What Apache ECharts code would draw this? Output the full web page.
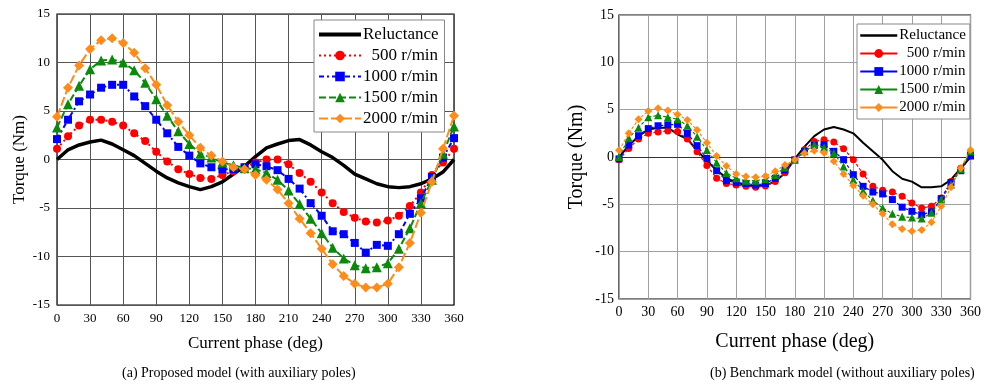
<!DOCTYPE html>
<html>
<head>
<meta charset="utf-8">
<script src="https://cdn.jsdelivr.net/npm/echarts@6/dist/echarts.min.js"></script>
<style>
html,body{margin:0;padding:0;background:#fff;}
#wrap{position:relative;width:984px;height:389px;}
#ca{position:absolute;left:0;top:0;width:492px;height:389px;}
#cb{position:absolute;left:492px;top:0;width:492px;height:389px;}
</style>
</head>
<body>
<div id="wrap"><div id="ca"></div><div id="cb"></div></div>
<script>
// ---- data ----
const phase = [0,10,20,30,40,50,60,70,80,90,100,110,120,130,140,150,160,170,180,190,200,210,220,230,240,250,260,270,280,290,300,310,320,330,340,350,360];
const seriesNames = ['Reluctance', '  500 r/min', '1000 r/min', '1500 r/min', '2000 r/min'];
const xTicks = [0,30,60,90,120,150,180,210,240,270,300,330,360];
const yTicks = [-15,-10,-5,0,5,10,15];

// (a) Proposed model
const relA   = [0,1.0,1.5,1.8,2.0,1.6,1.0,0.4,-0.4,-1.2,-1.9,-2.4,-2.8,-3.1,-2.8,-2.3,-1.5,-0.7,0.3,1.2,1.6,1.95,2.05,1.5,0.8,0.2,-0.6,-1.5,-2.0,-2.5,-2.8,-2.9,-2.8,-2.5,-2.0,-1.3,0];
const r500A  = [1.1,2.4,3.5,4.1,4.1,3.9,3.5,2.7,1.9,0.8,-0.2,-1.0,-1.5,-1.9,-2.0,-1.6,-1.2,-0.8,-0.3,0,0,-0.5,-1.4,-2.3,-3.4,-4.5,-5.4,-6.0,-6.4,-6.5,-6.3,-5.8,-4.8,-3.4,-1.6,-0.3,1.1];
const r1000A = [2.1,4.1,6.0,6.7,7.4,7.7,7.7,6.5,5.5,4.1,2.7,1.3,0.4,-0.4,-0.8,-1.0,-1.0,-0.8,-0.5,-0.7,-1.1,-2.0,-3.0,-4.5,-5.8,-7.4,-7.7,-8.6,-9.6,-8.8,-8.9,-7.7,-5.6,-4.0,-1.8,0.2,2.2];
const r1500A = [3.3,5.7,7.6,9.3,10.2,10.3,10.0,9.2,7.9,6.2,4.5,2.9,1.6,0.6,0.2,-0.3,-0.6,-0.9,-1.0,-1.4,-2.1,-3.2,-4.6,-6.1,-7.6,-9.1,-10.2,-10.9,-11.2,-11.1,-10.7,-9.2,-7.1,-4.5,-2.1,0.6,3.4];
const r2000A = [4.4,7.4,9.7,11.4,12.3,12.5,12.0,11.0,9.4,7.7,5.6,3.9,2.5,1.2,0.4,-0.2,-0.8,-1.0,-1.6,-2.1,-3.1,-4.5,-6.1,-7.6,-9.2,-10.8,-12.0,-12.8,-13.2,-13.2,-12.8,-11.1,-8.6,-5.5,-2.3,1.1,4.5];

// (b) Benchmark model
const relB   = [0,1.2,2.2,2.9,3.1,3.1,2.4,1.9,0.7,-0.4,-1.4,-2.2,-2.7,-3.0,-3.1,-3.0,-2.6,-1.7,-0.2,1.1,2.2,2.9,3.17,2.9,2.5,1.5,0.6,-0.3,-1.5,-2.3,-2.6,-3.2,-3.2,-3.1,-2.4,-1.2,0];
const r500B  = [-0.3,0.9,1.9,2.5,2.65,2.75,2.7,1.9,0.56,-0.9,-2.25,-2.8,-2.96,-3.1,-3.2,-3.06,-2.6,-1.66,-0.3,0.77,1.65,1.83,1.58,0.88,-0.28,-1.8,-3.1,-3.5,-3.7,-4.15,-4.86,-5.4,-5.2,-4.33,-2.6,-1.2,0.4];
const r1000B = [-0.2,1.27,2.25,3.0,3.3,3.4,3.45,2.5,1.2,-0.15,-1.45,-2.5,-2.7,-2.8,-2.96,-2.8,-2.25,-1.37,-0.3,0.6,1.23,1.3,0.6,-0.28,-1.87,-3.1,-3.7,-3.9,-4.5,-5.3,-5.74,-6.1,-5.8,-4.4,-2.7,-1.45,0.1];
const r1500B = [0,2.0,3.1,4.2,4.4,4.2,4.0,3.3,2.15,0.74,-0.6,-1.7,-2.25,-2.5,-2.5,-2.36,-1.9,-1.1,-0.3,0.6,1.3,1.0,0.42,-1.0,-2.4,-3.6,-4.6,-5.4,-6.0,-6.3,-6.4,-6.5,-5.9,-4.5,-2.9,-1.3,0.6];
const r2000B = [0.7,2.5,4.0,4.86,5.14,4.9,4.5,3.9,2.85,1.5,0.1,-0.95,-1.8,-2.05,-2.15,-2.0,-1.5,-0.85,-0.3,0.4,0.65,0.45,-0.46,-1.8,-3.0,-4.1,-5.0,-6.0,-7.1,-7.6,-7.85,-7.7,-6.9,-5.2,-3.2,-1.2,0.75];

const captionA = '(a) Proposed model (with auxiliary poles)';
const captionB = '(b) Benchmark model (without auxiliary poles)';
const xName = 'Current phase (deg)';
const yName = 'Torque (Nm)';

// ---- rendering ----
const FONT = '"Liberation Serif", "Times New Roman", serif';
const COLORS = ['#000000', '#ff0000', '#0000ff', '#0a8a0a', '#ff8c1a'];
const SYMBOLS = ['none', 'circle', 'rect', 'triangle', 'diamond'];
const pairs = vals => phase.map((p, i) => [p, vals[i]]);

function build(cfg) {
  const valsList = cfg.vals;
  const series = valsList.map((vals, k) => ({
    name: seriesNames[k],
    type: 'line',
    data: pairs(vals),
    color: COLORS[k],
    symbol: SYMBOLS[k],
    showSymbol: k !== 0,
    symbolSize: cfg.symSize[k],
    lineStyle: { color: COLORS[k], width: cfg.lineW[k], type: cfg.lineType[k] },
    itemStyle: { color: COLORS[k] },
    z: k === 0 ? 3 : 3 + k,
    animation: false,
    markLine: (k === 0 && cfg.zeroLine) ? {
      silent: true, symbol: 'none', label: { show: false },
      lineStyle: { color: cfg.zeroLine, width: 1.2, type: 'solid' },
      data: [{ yAxis: 0 }]
    } : undefined
  }));
  const legendData = seriesNames.map((n, k) => k === 0
    ? { name: n, itemStyle: { opacity: 0 }, lineStyle: { width: cfg.legendRelW } }
    : { name: n });
  const legend = {
    orient: 'vertical', left: cfg.legend[0], top: cfg.legend[1],
    data: legendData,
    backgroundColor: '#fff', borderColor: '#888', borderWidth: 1,
    padding: cfg.legendPad, itemGap: cfg.legendGap,
    itemWidth: cfg.legendItemW, itemHeight: cfg.legendItemH,
    textStyle: { fontFamily: FONT, fontSize: cfg.legendFont, color: '#000', padding: [0,0,0,-3] },
    selectedMode: false
  };
  if (cfg.legendSolid) legend.lineStyle = { type: 'solid' };
  return {
    animation: false,
    backgroundColor: '#fff',
    textStyle: { fontFamily: FONT, color: '#000' },
    grid: { left: cfg.grid[0], top: cfg.grid[1], width: cfg.grid[2], height: cfg.grid[3],
            show: true, borderColor: '#000', borderWidth: 1.2, backgroundColor: 'transparent' },
    xAxis: {
      type: 'value', min: xTicks[0], max: xTicks[xTicks.length - 1], interval: 30,
      name: xName, nameLocation: 'middle', nameGap: cfg.xNameGap, nameMoveOverlap: false,
      nameTextStyle: { fontFamily: FONT, fontSize: cfg.nameSize, color: '#000' },
      axisLine: { show: false }, axisTick: { show: false },
      axisLabel: { fontFamily: FONT, fontSize: cfg.tickSize, color: '#000', margin: cfg.xLabelMargin },
      splitLine: { show: true, lineStyle: { color: cfg.gridColor, width: 1 } }
    },
    yAxis: {
      type: 'value', min: yTicks[0], max: yTicks[yTicks.length - 1], interval: 5,
      name: yName, nameLocation: 'middle', nameGap: cfg.yNameGap, nameRotate: 90, nameMoveOverlap: false,
      nameTextStyle: { fontFamily: FONT, fontSize: cfg.nameSize, color: '#000' },
      axisLine: { show: false }, axisTick: { show: false },
      axisLabel: { fontFamily: FONT, fontSize: cfg.tickSize, color: '#000', margin: cfg.yLabelMargin },
      splitLine: { show: true, lineStyle: { color: cfg.gridColor, width: 1 } }
    },
    legend: legend,
    graphic: [{
      type: 'text', left: cfg.caption[0], top: cfg.caption[1],
      style: { text: cfg.captionText, font: '14px ' + FONT, fill: '#000' }
    }],
    series: series
  };
}

const chartA = echarts.init(document.getElementById('ca'), null, { renderer: 'canvas' });
chartA.setOption(build({
  vals: [relA, r500A, r1000A, r1500A, r2000A],
  grid: [57, 14, 397, 291],
  symSize: [0, 8, 8, 10, 10],
  lineW: [3.5, 2, 2, 2, 2],
  lineType: ['solid', [2, 3], [5, 3, 2, 3], [7, 3], [9, 3]],
  gridColor: '#555',
  zeroLine: null,
  nameSize: 17, tickSize: 13,
  xNameGap: 30, yNameGap: 29, xLabelMargin: 7, yLabelMargin: 7,
  legend: [314, 20], legendPad: [6, 6, 5, 3], legendGap: 4,
  legendItemW: 42, legendItemH: 12, legendFont: 17, legendSolid: false, legendRelW: 4,
  caption: [122, 366], captionText: captionA
}));

const chartB = echarts.init(document.getElementById('cb'), null, { renderer: 'canvas' });
chartB.setOption(build({
  vals: [relB, r500B, r1000B, r1500B, r2000B],
  grid: [127, 15, 353, 284],
  symSize: [0, 7, 7, 8, 8],
  lineW: [2, 1.2, 1.2, 1.2, 1.2],
  lineType: ['solid', [3, 2], [3, 2], [3, 2], [3, 2]],
  gridColor: '#a0a0a0',
  zeroLine: '#333',
  nameSize: 20, tickSize: 14,
  xNameGap: 33, yNameGap: 32, xLabelMargin: 6, yLabelMargin: 5,
  legend: [365, 24], legendPad: [4, 4, 4, 2], legendGap: 3,
  legendItemW: 37, legendItemH: 11, legendFont: 15, legendSolid: true, legendRelW: 2.5,
  caption: [218, 366], captionText: captionB
}));
</script>
</body>
</html>
